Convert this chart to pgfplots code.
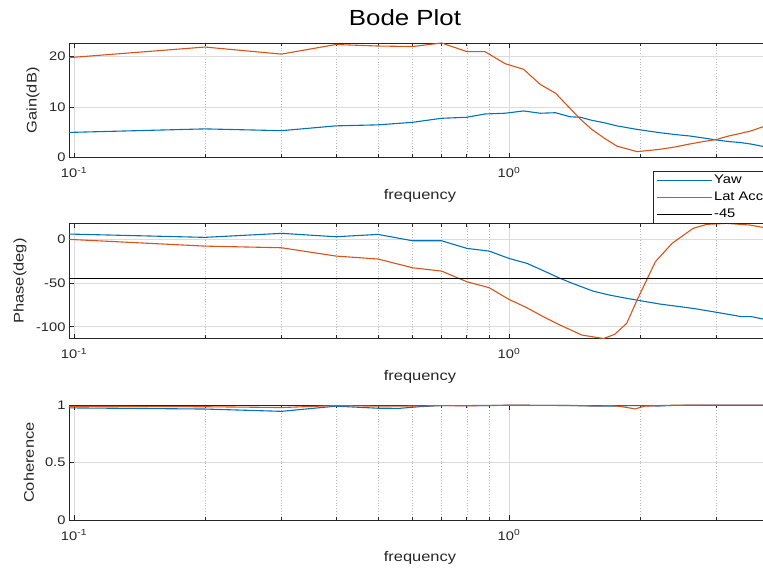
\documentclass[border=0pt]{standalone}
\usepackage{fontspec}
\setmainfont{Liberation Sans}[FakeStretch=1.18]
\usepackage{pgfplots}
\pgfplotsset{compat=1.18}

\definecolor{yawblue}{HTML}{0072BD}
\definecolor{latorange}{HTML}{D95319}
\definecolor{axgray}{HTML}{262626}

% gain (dB)
\pgfplotstableread{
f      yaw    lat
0.0974 5.0    19.8
0.2    5.7    21.9
0.3    5.35   20.5
0.4    6.3    22.4
0.5    6.5    22.1
0.6    7.0    22.0
0.7    7.8    22.7
0.8    8.0    21.0
0.88   8.65   21.0
0.98   8.8    18.6
1.08   9.25   17.5
1.18   8.8    14.5
1.28   8.9    12.75
1.38   8.1    9.8
1.46   8.0    7.6
1.55   7.4    5.6
1.66   6.9    3.8
1.77   6.3    2.3
1.97   5.6    1.2
2.22   4.95   1.65
2.4    4.6    2.1
2.6    4.3    2.7
2.8    3.9    3.2
3.0    3.5    3.6
3.2    3.2    4.3
3.4    3.0    4.8
3.6    2.7    5.3
3.8    2.3    6.0
4.0    2.0    6.6
}\gaintable

% phase (deg), Yaw
\pgfplotstableread{
f      ph
0.0974 6.1
0.2    2.3
0.3    6.9
0.4    3.0
0.5    5.7
0.6    -1.6
0.7    -1.6
0.8    -10.3
0.9    -13.4
1.0    -21.8
1.1    -27.5
1.2    -35.9
1.31   -44.6
1.4    -50.4
1.56   -59.2
1.7    -63.7
1.865  -67.5
2.22   -74.0
2.65   -79.0
3.0    -83.5
3.43   -88.5
3.61   -88.5
3.84   -91.2
4.0    -92.5
}\phaseyaw

% phase (deg), Lat Accel
\pgfplotstableread{
f      ph
0.0974 0.0
0.2    -7.7
0.3    -9.6
0.4    -19.1
0.5    -22.5
0.6    -32.5
0.7    -36.3
0.8    -48.5
0.9    -55.3
1.0    -68.7
1.1    -78.3
1.2    -88.6
1.31   -98.1
1.47   -109.5
1.65   -113.5
1.75   -108.7
1.865  -96.1
1.97   -69.5
2.17   -25.6
2.37   -4.6
2.65   12.6
2.85   17.2
3.17   18.3
3.58   16.4
3.84   13.7
4.0    12.0
}\phaselat

% coherence
\pgfplotstableread{
f      yaw    lat
0.0974 0.975  0.988
0.2    0.965  0.985
0.3    0.945  0.978
0.4    0.990  0.995
0.5    0.972  0.990
0.56   0.971  0.990
0.62   0.985  0.992
0.7    0.995  0.995
0.8    0.995  0.993
0.9    0.996  0.995
1.0    0.998  0.998
1.2    0.997  0.997
1.4    0.995  0.996
1.6    0.990  0.992
1.7    0.990  0.995
1.8    0.993  0.988
1.95   0.995  0.966
2.05   0.995  0.990
2.2    0.991  0.995
2.4    0.997  0.998
3.0    0.999  0.999
4.0    0.999  0.999
}\cohtable

\pgfplotsset{
  every axis/.append style={
    scale only axis,
    width=701.9bp,
    xtick={0.1,1},
    xticklabels={10\textsuperscript{-1},10\textsuperscript{0}},
    minor xtick={0.2,0.3,0.4,0.5,0.6,0.7,0.8,0.9,2,3},
    grid=both,
    major grid style={black!14, line width=0.6bp},
    minor grid style={black!28, line width=0.6bp, dash pattern=on 0.8bp off 2bp},
    axis line style={axgray, line width=0.7bp},
    tick style={axgray, line width=0.7bp},
    major tick length=5bp, minor tick length=3.5bp,
    tick align=inside,
    tick label style={font=\fontsize{12.5}{14}\selectfont, text=axgray},
    xticklabel style={yshift=-6bp},
    label style={font=\fontsize{14}{16}\selectfont, text=axgray},
    /pgf/number format/assume math mode=true,
    xlabel={frequency},
    xlabel style={at={(axis description cs:0.5,-0.33)}, anchor=center},
  },
  every axis plot/.append style={line width=1.1bp},
}

\begin{document}
\begin{tikzpicture}
\useasboundingbox (0,0) rectangle (763bp,570bp);
\clip (0,0) rectangle (763bp,570bp);

\node[font=\fontsize{22}{26}\selectfont, text=black] at (405bp,552bp) {Bode Plot};

% gain
\begin{axis}[xmode=log, xmin=0.0974, xmax=4,
  at={(69bp,412.3bp)}, anchor=south west, height=114.7bp,
  ymin=0, ymax=22.7, ytick={0,10,20},
  ylabel={Gain(dB)},
  ylabel style={at={(axis description cs:-0.0513,0.5)}, anchor=center}]
\addplot[yawblue] table[x=f, y=yaw] {\gaintable};
\addplot[latorange] table[x=f, y=lat] {\gaintable};
\end{axis}

% phase
\begin{axis}[xmode=log, xmin=0.0974, xmax=4,
  at={(69bp,231.3bp)}, anchor=south west, height=115.4bp,
  ymin=-113.7, ymax=18.4, ytick={-100,-50,0},
  ylabel={Phase(deg)},
  ylabel style={at={(axis description cs:-0.0698,0.5)}, anchor=center},
  legend style={at={(axis description cs:0.8325,1)}, anchor=south west,
    draw=axgray, fill=white,
    font=\fontsize{12.5}{14}\selectfont, text=black,
    inner xsep=2.5bp, inner ysep=2bp, row sep=2.6bp},
  legend cell align=left,
  legend image code/.code={\draw[#1] (0bp,0bp) -- (55bp,0bp);}]
\addplot[yawblue, legend image post style={yawblue, line width=1.1bp}]
  table[x=f, y=ph] {\phaseyaw};
\addplot[latorange, legend image post style={latorange, line width=1.1bp}]
  table[x=f, y=ph] {\phaselat};
\addplot[black, line width=1.2bp, legend image post style={black, line width=1.1bp}]
  coordinates {(0.0974,-45) (4,-45)};
\legend{Yaw, Lat Accel, -45}
\end{axis}

% coherence
\begin{axis}[xmode=log, xmin=0.0974, xmax=4,
  at={(69bp,49.7bp)}, anchor=south west, height=115.3bp,
  ymin=0, ymax=1, ytick={0,0.5,1},
  ylabel={Coherence},
  ylabel style={at={(axis description cs:-0.057,0.5)}, anchor=center}]
\addplot[yawblue] table[x=f, y=yaw] {\cohtable};
\addplot[latorange] table[x=f, y=lat] {\cohtable};
\end{axis}
\end{tikzpicture}
\end{document}
